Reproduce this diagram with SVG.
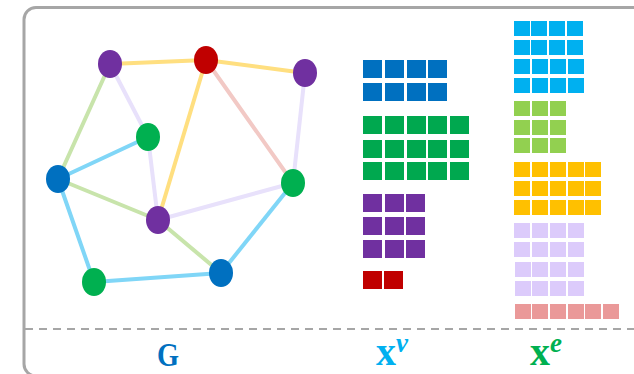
<svg xmlns="http://www.w3.org/2000/svg" width="634" height="374" viewBox="0 0 634 374">
  <style>
    .edge { stroke-width: 4; stroke-linecap: round; fill: none; }
    .e-yel { stroke: #ffdf80; }
    .e-pnk { stroke: #f2c9c5; }
    .e-lav { stroke: #e8e1fb; }
    .e-grn { stroke: #c8e4ab; }
    .e-sky { stroke: #80d6f7; }
    .n-pur { fill: #7030a0; }
    .n-red { fill: #c00000; }
    .n-grn { fill: #00b050; }
    .n-blu { fill: #0070c0; }
    .lbl { font-family: "Liberation Serif", "DejaVu Serif", serif; font-weight: bold; }
  </style>
  <defs>
    <!-- node-feature cell -->
    <rect id="cv" width="19" height="18"/>
    <!-- edge-feature cell -->
    <rect id="ce" width="16" height="15"/>
  </defs>

  <rect width="634" height="374" fill="#ffffff"/>

  <!-- frame -->
  <rect x="24" y="7.5" width="640" height="368.5" rx="12" fill="none" stroke="#a6a6a6" stroke-width="3"/>
  <line x1="25" y1="329" x2="634" y2="329" stroke="#a6a6a6" stroke-width="2" stroke-dasharray="8 6"/>

  <!-- graph connectors -->
  <g id="connectors">
    <line class="edge e-yel" x1="110" y1="64" x2="206" y2="60"/>
    <line class="edge e-yel" x1="206" y1="60" x2="305" y2="73"/>
    <line class="edge e-yel" x1="206" y1="60" x2="158" y2="220"/>
    <line class="edge e-pnk" x1="206" y1="60" x2="293" y2="183"/>
    <line class="edge e-lav" x1="305" y1="73" x2="293" y2="183"/>
    <line class="edge e-lav" x1="110" y1="64" x2="148" y2="137"/>
    <line class="edge e-lav" x1="148" y1="137" x2="158" y2="220"/>
    <line class="edge e-lav" x1="158" y1="220" x2="293" y2="183"/>
    <line class="edge e-grn" x1="110" y1="64" x2="58" y2="179"/>
    <line class="edge e-grn" x1="58" y1="179" x2="158" y2="220"/>
    <line class="edge e-grn" x1="158" y1="220" x2="221" y2="273"/>
    <line class="edge e-sky" x1="58" y1="179" x2="148" y2="137"/>
    <line class="edge e-sky" x1="58" y1="179" x2="94" y2="282"/>
    <line class="edge e-sky" x1="94" y1="282" x2="221" y2="273"/>
    <line class="edge e-sky" x1="221" y1="273" x2="293" y2="183"/>
  </g>

  <!-- graph nodes -->
  <g id="v1"><ellipse class="n-pur" cx="110" cy="64" rx="12" ry="14"/></g>
  <g id="v2"><ellipse class="n-red" cx="206" cy="60" rx="12" ry="14"/></g>
  <g id="v3"><ellipse class="n-pur" cx="305" cy="73" rx="12" ry="14"/></g>
  <g id="v4"><ellipse class="n-grn" cx="148" cy="137" rx="12" ry="14"/></g>
  <g id="v5"><ellipse class="n-blu" cx="58" cy="179" rx="12" ry="14"/></g>
  <g id="v6"><ellipse class="n-grn" cx="293" cy="183" rx="12" ry="14"/></g>
  <g id="v7"><ellipse class="n-pur" cx="158" cy="220" rx="12" ry="14"/></g>
  <g id="v8"><ellipse class="n-grn" cx="94" cy="282" rx="12" ry="14"/></g>
  <g id="v9"><ellipse class="n-blu" cx="221" cy="273" rx="12" ry="14"/></g>

  <!-- node feature matrix x^v -->
  <g id="xv">
    <g fill="#0070c0">
      <use href="#cv" x="363" y="60"/><use href="#cv" x="385" y="60"/><use href="#cv" x="407" y="60"/><use href="#cv" x="428" y="60"/>
      <use href="#cv" x="363" y="83"/><use href="#cv" x="385" y="83"/><use href="#cv" x="407" y="83"/><use href="#cv" x="428" y="83"/>
    </g>
    <g fill="#00a84f">
      <use href="#cv" x="363" y="116"/><use href="#cv" x="385" y="116"/><use href="#cv" x="407" y="116"/><use href="#cv" x="428" y="116"/><use href="#cv" x="450" y="116"/>
      <use href="#cv" x="363" y="140"/><use href="#cv" x="385" y="140"/><use href="#cv" x="407" y="140"/><use href="#cv" x="428" y="140"/><use href="#cv" x="450" y="140"/>
      <use href="#cv" x="363" y="162"/><use href="#cv" x="385" y="162"/><use href="#cv" x="407" y="162"/><use href="#cv" x="428" y="162"/><use href="#cv" x="450" y="162"/>
    </g>
    <g fill="#7030a0">
      <use href="#cv" x="363" y="194"/><use href="#cv" x="385" y="194"/><use href="#cv" x="406" y="194"/>
      <use href="#cv" x="363" y="217"/><use href="#cv" x="385" y="217"/><use href="#cv" x="406" y="217"/>
      <use href="#cv" x="363" y="240"/><use href="#cv" x="385" y="240"/><use href="#cv" x="406" y="240"/>
    </g>
    <g fill="#c00000">
      <use href="#cv" x="363" y="271"/><use href="#cv" x="384" y="271"/>
    </g>
  </g>

  <!-- edge feature matrix x^e -->
  <g id="xe">
    <g fill="#00b0f0">
      <use href="#ce" x="514" y="21"/><use href="#ce" x="531" y="21"/><use href="#ce" x="549" y="21"/><use href="#ce" x="567" y="21"/>
      <use href="#ce" x="514" y="40"/><use href="#ce" x="531" y="40"/><use href="#ce" x="549" y="40"/><use href="#ce" x="567" y="40"/>
      <use href="#ce" x="514" y="59"/><use href="#ce" x="532" y="59"/><use href="#ce" x="550" y="59"/><use href="#ce" x="568" y="59"/>
      <use href="#ce" x="514" y="78"/><use href="#ce" x="532" y="78"/><use href="#ce" x="550" y="78"/><use href="#ce" x="568" y="78"/>
    </g>
    <g fill="#92d050">
      <use href="#ce" x="514" y="101"/><use href="#ce" x="532" y="101"/><use href="#ce" x="550" y="101"/>
      <use href="#ce" x="514" y="120"/><use href="#ce" x="532" y="120"/><use href="#ce" x="550" y="120"/>
      <use href="#ce" x="514" y="138"/><use href="#ce" x="532" y="138"/><use href="#ce" x="550" y="138"/>
    </g>
    <g fill="#ffc000">
      <use href="#ce" x="514" y="162"/><use href="#ce" x="532" y="162"/><use href="#ce" x="550" y="162"/><use href="#ce" x="568" y="162"/><use href="#ce" x="585" y="162"/>
      <use href="#ce" x="514" y="181"/><use href="#ce" x="532" y="181"/><use href="#ce" x="550" y="181"/><use href="#ce" x="568" y="181"/><use href="#ce" x="585" y="181"/>
      <use href="#ce" x="514" y="200"/><use href="#ce" x="532" y="200"/><use href="#ce" x="550" y="200"/><use href="#ce" x="568" y="200"/><use href="#ce" x="585" y="200"/>
    </g>
    <g fill="#dccbfb">
      <use href="#ce" x="514" y="223"/><use href="#ce" x="532" y="223"/><use href="#ce" x="550" y="223"/><use href="#ce" x="568" y="223"/>
      <use href="#ce" x="514" y="242"/><use href="#ce" x="532" y="242"/><use href="#ce" x="550" y="242"/><use href="#ce" x="568" y="242"/>
      <use href="#ce" x="515" y="262"/><use href="#ce" x="532" y="262"/><use href="#ce" x="550" y="262"/><use href="#ce" x="568" y="262"/>
      <use href="#ce" x="515" y="281"/><use href="#ce" x="532" y="281"/><use href="#ce" x="550" y="281"/><use href="#ce" x="568" y="281"/>
    </g>
    <g fill="#ea9999">
      <use href="#ce" x="515" y="304"/><use href="#ce" x="532" y="304"/><use href="#ce" x="550" y="304"/><use href="#ce" x="568" y="304"/><use href="#ce" x="585" y="304"/><use href="#ce" x="603" y="304"/>
    </g>
  </g>

  <!-- captions -->
  <g id="captions">
    <text class="lbl" x="157" y="366" font-size="34" fill="#0070c0" textLength="22" lengthAdjust="spacingAndGlyphs">G</text>
    <text class="lbl" x="376" y="365" font-size="40" fill="#00b0f0">x<tspan font-size="27" font-style="italic" dy="-13">v</tspan></text>
    <text class="lbl" x="530" y="365" font-size="40" fill="#00b050">x<tspan font-size="27" font-style="italic" dy="-13">e</tspan></text>
  </g>
</svg>
